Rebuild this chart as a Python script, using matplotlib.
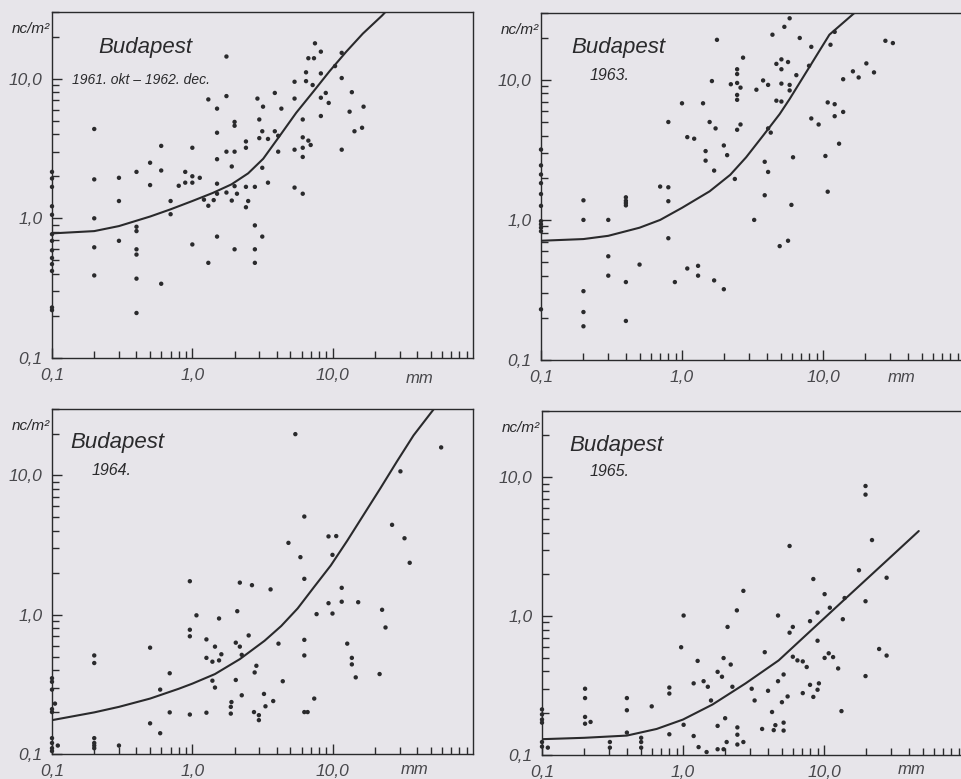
import matplotlib
matplotlib.use("Agg")
import matplotlib.pyplot as plt
from matplotlib.ticker import NullFormatter

plt.rcParams['font.family'] = ['Liberation Sans Narrow', 'Liberation Sans', 'DejaVu Sans']

BG = '#e7e5ea'
INK = '#2a2a2c'
W, H = 962, 779

# ---- data (x in mm, y in nc/m2) ----
tick_vals = [0.1, 1.0, 10.0]
tick_text = ['0,1', '1,0', '10,0']

# 1961 okt - 1962 dec
tl_x = [0.1] * 13 + [
    0.2, 0.2, 0.2, 0.2, 0.2, 0.3, 0.3, 0.3,
    0.4, 0.4, 0.4, 0.4, 0.4, 0.4, 0.4, 0.5, 0.5, 0.6, 0.6, 0.6, 0.7, 0.7, 0.8,
    0.89, 0.89, 1.0, 1.0, 1.0, 1.0, 1.13, 1.21, 1.3, 1.3, 1.3, 1.42,
    1.5, 1.5, 1.5, 1.5, 1.5, 1.5, 1.75, 1.75, 1.75, 1.75, 1.91, 1.91,
    2.0, 2.0, 2.0, 2.0, 2.0, 2.08, 2.41, 2.41, 2.41, 2.41, 2.5,
    2.79, 2.79, 2.79, 2.79, 2.91, 3.0, 3.0, 3.15, 3.15, 3.15, 3.19,
    3.46, 3.46, 3.87, 3.87, 4.09, 4.09, 4.31,
    5.35, 5.35, 5.35, 5.35, 6.12, 6.12, 6.12, 6.12, 6.12, 6.46, 6.46,
    6.71, 6.71, 6.97, 7.2, 7.36, 7.48, 8.24, 8.24, 8.24, 8.24, 8.93, 9.37,
    10.4, 11.6, 11.6, 11.6, 13.2, 13.7, 14.3, 16.2, 16.6]
tl_y = [2.15, 1.93, 1.68, 1.22, 1.06, 0.77, 0.69, 0.59, 0.52, 0.47, 0.42, 0.23, 0.22] + [
    4.36, 1.9, 1.0, 0.62, 0.39, 1.95, 1.33, 0.69,
    2.15, 0.87, 0.81, 0.60, 0.55, 0.37, 0.21, 2.5, 1.73, 3.3, 2.2, 0.34, 1.33, 1.07, 1.71,
    2.15, 1.8, 3.2, 2.0, 1.8, 0.65, 1.95, 1.36, 7.1, 1.23, 0.48, 1.35,
    6.1, 4.1, 2.65, 1.77, 1.5, 0.74, 14.4, 7.5, 3.0, 1.53, 2.35, 1.34,
    4.9, 4.6, 3.0, 1.7, 0.6, 1.5, 3.55, 3.2, 1.68, 1.2, 1.33,
    1.68, 0.89, 0.6, 0.48, 7.2, 5.1, 3.75, 4.2, 2.3, 0.74, 6.3,
    3.7, 1.8, 4.2, 7.9, 3.9, 3.0, 6.1,
    9.5, 7.2, 3.1, 1.66, 5.1, 3.8, 3.2, 2.75, 1.5, 9.6, 11.1,
    14.0, 3.6, 3.35, 9.0, 14.0, 17.9, 15.6, 10.9, 7.3, 5.4, 7.9, 6.7,
    12.3, 15.3, 10.1, 3.1, 5.8, 8.0, 4.2, 4.45, 6.3]
tl_curve_x = [0.1, 0.2, 0.3, 0.5, 0.7, 1.0, 1.4, 1.9, 2.5, 3.2, 4.2, 5.5, 7.3, 9.5, 12.5, 16.4, 22.5, 24.5]
tl_curve_y = [0.78, 0.81, 0.88, 1.03, 1.16, 1.33, 1.52, 1.75, 2.1, 2.67, 3.9, 5.7, 8.1, 11.3, 15.6, 21.0, 28.3, 31.0]

# 1963
tr_x = [0.1] * 11 + [
    0.2, 0.2, 0.2, 0.2, 0.2, 0.3, 0.3, 0.3,
    0.4, 0.4, 0.4, 0.4, 0.4, 0.4, 0.5, 0.7, 0.8, 0.8, 0.8, 0.8, 0.89, 1.0,
    1.09, 1.09, 1.22, 1.3, 1.3, 1.41, 1.47, 1.47, 1.57, 1.63, 1.69, 1.69,
    1.73, 1.77, 1.98, 1.98, 2.09, 2.22, 2.37,
    2.46, 2.46, 2.46, 2.46, 2.46, 2.46, 2.6, 2.6, 2.71, 3.25, 3.37, 3.76,
    3.86, 3.86, 4.08, 4.08, 4.08, 4.26, 4.38, 4.67, 4.67, 4.93,
    5.07, 5.07, 5.07, 5.07, 5.32, 5.65, 5.65, 5.8, 5.8, 5.8, 5.97, 6.13,
    6.47, 6.84, 7.96, 8.26, 8.26, 9.31, 10.4, 10.8, 10.8, 11.3,
    12.1, 12.1, 12.1, 13.0, 13.9, 13.9, 16.3, 17.9, 20.3, 23.0, 27.7, 31.3]
tr_y = [3.18, 2.45, 2.11, 1.83, 1.53, 1.26, 0.98, 0.93, 0.88, 0.83, 0.23] + [
    1.38, 1.0, 0.31, 0.22, 0.174, 1.0, 0.55, 0.40,
    1.45, 1.37, 1.32, 1.27, 0.36, 0.19, 0.48, 1.73, 5.0, 1.71, 1.36, 0.74, 0.36, 6.8,
    3.9, 0.45, 3.8, 0.47, 0.40, 6.8, 3.1, 2.65, 5.0, 9.8, 2.25, 0.37,
    4.5, 19.3, 3.4, 0.32, 2.9, 9.3, 1.96,
    11.9, 11.0, 9.5, 7.8, 7.2, 4.4, 8.8, 4.8, 14.4, 1.0, 8.5, 9.9,
    2.6, 1.5, 9.2, 4.5, 2.2, 4.2, 21.0, 13.0, 7.1, 0.65,
    14.0, 11.9, 9.4, 7.0, 23.9, 13.4, 0.71, 27.5, 9.2, 8.4, 1.28, 2.8,
    10.8, 19.9, 12.6, 17.2, 5.3, 4.8, 2.86, 6.9, 1.59, 17.8,
    22.0, 6.7, 5.5, 3.5, 10.1, 5.9, 11.5, 10.4, 13.1, 11.3, 19.0, 18.3]
tr_curve_x = [0.1, 0.2, 0.3, 0.5, 0.7, 1.0, 1.57, 2.2, 2.85, 3.76, 4.93, 5.8, 8.5, 11.1, 16.7, 17.5]
tr_curve_y = [0.71, 0.73, 0.77, 0.88, 1.0, 1.22, 1.6, 2.1, 2.8, 4.0, 5.7, 7.3, 13.6, 21.0, 30.0, 32.0]

# 1964
bl_x = [0.1] * 9 + [0.105, 0.11] + [
    0.2, 0.2, 0.2, 0.2, 0.2, 0.2, 0.3, 0.5, 0.5, 0.59, 0.59, 0.69, 0.69,
    0.96, 0.96, 0.96, 0.96, 1.07, 1.26, 1.26, 1.26, 1.39, 1.39, 1.45, 1.45,
    1.55, 1.55, 1.61, 1.88, 1.88, 1.9, 2.04, 2.04, 2.09, 2.18, 2.18,
    2.25, 2.25, 2.52, 2.66, 2.75, 2.78, 2.86, 2.98, 2.98, 3.24, 3.32,
    3.61, 3.77, 4.11, 4.41, 4.84, 5.42, 5.89, 6.28, 6.28, 6.28, 6.28, 6.28,
    6.63, 7.39, 7.68, 9.34, 9.34, 9.97, 9.97, 10.6, 11.6, 11.6, 12.7,
    13.7, 13.7, 14.6, 15.2, 21.6, 22.5, 23.8, 26.5, 30.4, 32.5, 35.4, 59.3]
bl_y = [0.35, 0.33, 0.29, 0.21, 0.2, 0.13, 0.12, 0.11, 0.105, 0.23, 0.115] + [
    0.51, 0.45, 0.13, 0.12, 0.115, 0.11, 0.115, 0.58, 0.166, 0.29, 0.141, 0.38, 0.199,
    1.74, 0.78, 0.70, 0.192, 0.99, 0.665, 0.49, 0.198, 0.46, 0.336, 0.59, 0.30,
    0.94, 0.47, 0.52, 0.218, 0.195, 0.236, 0.63, 0.34, 1.06, 1.70, 0.59,
    0.515, 0.264, 0.71, 1.63, 0.2, 0.385, 0.43, 0.19, 0.175, 0.27, 0.22,
    1.52, 0.24, 0.62, 0.333, 3.28, 19.8, 2.59, 5.07, 1.81, 0.66, 0.51, 0.2,
    0.2, 0.25, 1.01, 3.65, 1.21, 2.69, 1.02, 3.67, 1.56, 1.24, 0.62,
    0.49, 0.44, 0.355, 1.23, 0.375, 1.085, 0.81, 4.42, 10.7, 3.54, 2.36, 15.9]
bl_curve_x = [0.1, 0.2, 0.3, 0.5, 0.8, 1.0, 1.45, 2.18, 3.27, 4.3, 5.63, 7.4, 9.7,
              12.7, 16.7, 21.9, 28.7, 37.7, 49.5, 54.0]
bl_curve_y = [0.175, 0.199, 0.218, 0.25, 0.294, 0.32, 0.375, 0.48, 0.65, 0.83, 1.11, 1.59, 2.26,
              3.4, 5.26, 8.1, 12.6, 19.4, 27.7, 31.0]

# 1965
br_x = [0.1] * 6 + [0.11] + [
    0.202, 0.202, 0.202, 0.202, 0.221, 0.303, 0.303, 0.40, 0.40, 0.40,
    0.505, 0.505, 0.505, 0.60, 0.80, 0.80, 0.80, 0.97, 1.01, 1.01, 1.19, 1.19,
    1.27, 1.29, 1.40, 1.47, 1.50, 1.58, 1.76, 1.76, 1.76, 1.89, 1.94, 1.94,
    1.99, 2.04, 2.07, 2.18, 2.24, 2.41, 2.43, 2.43, 2.43, 2.68, 2.68,
    3.07, 3.22, 3.64, 3.80, 4.01, 4.28, 4.40, 4.52, 4.72, 4.72, 5.03,
    5.17, 5.17, 5.17, 5.52, 5.70, 5.70, 6.01, 6.01, 6.48, 7.07, 7.07, 7.54,
    7.96, 7.96, 8.40, 8.40, 9.0, 9.0, 9.0, 9.2, 10.1, 10.1, 10.8, 11.0, 11.6,
    12.6, 13.3, 13.6, 14.0, 17.7, 19.7, 19.7, 19.7, 19.7, 21.9, 24.6, 27.8, 27.8]
br_y = [0.213, 0.196, 0.18, 0.171, 0.124, 0.115, 0.113] + [
    0.30, 0.257, 0.188, 0.168, 0.173, 0.124, 0.113, 0.257, 0.21, 0.145,
    0.133, 0.124, 0.113, 0.224, 0.306, 0.277, 0.141, 0.597, 1.01, 0.165, 0.328, 0.137,
    0.476, 0.114, 0.34, 0.105, 0.31, 0.247, 0.397, 0.162, 0.11, 0.366, 0.499, 0.11,
    0.184, 0.124, 0.836, 0.448, 0.31, 1.1, 0.158, 0.14, 0.119, 1.52, 0.124,
    0.30, 0.247, 0.154, 0.55, 0.29, 0.204, 0.151, 0.164, 0.34, 1.01, 0.24,
    0.38, 0.171, 0.15, 0.264, 3.2, 0.76, 0.836, 0.51, 0.48, 0.472, 0.279, 0.43,
    0.92, 0.32, 1.85, 0.262, 1.06, 0.665, 0.295, 0.328, 1.44, 0.5, 0.54, 1.15, 0.507,
    0.42, 0.207, 0.95, 1.35, 2.14, 8.65, 7.5, 1.28, 0.37, 3.53, 0.58, 1.89, 0.52]
br_curve_x = [0.1, 0.2, 0.4, 0.65, 1.0, 1.62, 2.78, 4.77, 8.17, 14.0, 28.2, 47.0]
br_curve_y = [0.13, 0.133, 0.138, 0.154, 0.18, 0.231, 0.328, 0.48, 0.796, 1.32, 2.54, 4.1]

panels = [
    dict(x=tl_x, y=tl_y, cx=tl_curve_x, cy=tl_curve_y, sub='1961. okt \u2013 1962. dec.',
         rect=(52, 12, 421, 346), city=(98, 47), subpos=(72, 80), subsize=10, mm=(420, 378)),
    dict(x=tr_x, y=tr_y, cx=tr_curve_x, cy=tr_curve_y, sub='1963.',
         rect=(541, 13, 423, 347), city=(571, 48), subpos=(590, 75), subsize=11.5, mm=(902, 377)),
    dict(x=bl_x, y=bl_y, cx=bl_curve_x, cy=bl_curve_y, sub='1964.',
         rect=(52, 409, 421, 345), city=(70, 443), subpos=(92, 470), subsize=11.5, mm=(415, 770)),
    dict(x=br_x, y=br_y, cx=br_curve_x, cy=br_curve_y, sub='1965.',
         rect=(542, 411, 423, 344), city=(569, 446), subpos=(590, 472), subsize=11.5, mm=(912, 770)),
]

fig = plt.figure(figsize=(W / 100, H / 100), dpi=100, facecolor=BG)


def fx(px):
    return px / W


def fy(py):
    return 1 - py / H


for p in panels:
    left, top, w, h = p['rect']
    ax = fig.add_axes([left / W, 1 - (top + h) / H, w / W, h / H])
    ax.set_facecolor(BG)
    ax.set_xscale('log')
    ax.set_yscale('log')
    ax.set_xlim(0.1, 100)
    ax.set_ylim(0.1, 30)

    ax.plot(p['cx'], p['cy'], color=INK, lw=1.5, solid_capstyle='round')
    ax.scatter(p['x'], p['y'], s=10, color=INK, edgecolors='none', clip_on=False, zorder=3)

    for s in ax.spines.values():
        s.set_color(INK)
        s.set_linewidth(1.0)

    ax.set_xticks(tick_vals, tick_text, fontstyle='italic', fontsize=12.5, color='#48484c')
    ax.set_yticks(tick_vals, tick_text, fontstyle='italic', fontsize=12.5, color='#48484c')
    ax.xaxis.set_minor_formatter(NullFormatter())
    ax.yaxis.set_minor_formatter(NullFormatter())
    ax.tick_params(which='both', direction='in', color=INK, width=1.0)
    ax.tick_params(which='major', length=7)
    ax.tick_params(which='minor', length=5)
    ax.tick_params(axis='x', which='major', pad=7)
    ax.tick_params(axis='y', which='major', pad=7)

    fig.text(fx(p['city'][0]), fy(p['city'][1]), 'Budapest', fontsize=16, fontstyle='italic',
             color=INK, ha='left', va='center')
    fig.text(fx(p['subpos'][0]), fy(p['subpos'][1]), p['sub'], fontsize=p['subsize'],
             fontstyle='italic', color=INK, ha='left', va='center')
    fig.text(fx(left - 2), fy(top + 17), 'nc/m\u00b2', fontsize=11, fontstyle='italic',
             color=INK, ha='right', va='center')
    fig.text(fx(p['mm'][0]), fy(p['mm'][1]), 'mm', fontsize=12, fontstyle='italic',
             color='#48484c', ha='center', va='center')

fig.savefig('out.png', dpi=100, facecolor=BG)
